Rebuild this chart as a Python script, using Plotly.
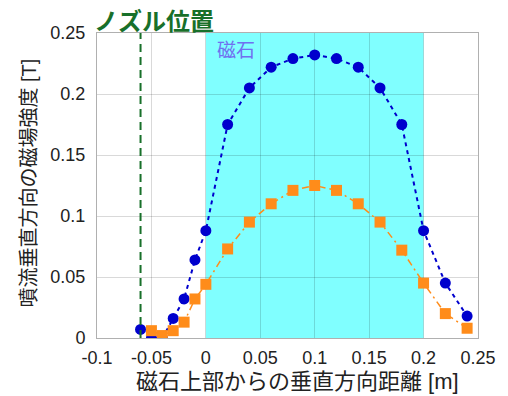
import plotly.graph_objects as go

# Data
blue_x = [-0.06, -0.05, -0.04, -0.03, -0.02, -0.01, 0.0, 0.02, 0.04, 0.06, 0.08, 0.10,
          0.12, 0.14, 0.16, 0.18, 0.20, 0.22, 0.24]
blue_y = [0.007, 0.0, 0.0, 0.016, 0.032, 0.064, 0.088, 0.175, 0.205, 0.222, 0.229, 0.232,
          0.229, 0.222, 0.205, 0.175, 0.088, 0.045, 0.018]
orange_x = [-0.05, -0.04, -0.03, -0.02, -0.01, 0.0, 0.02, 0.04, 0.06, 0.08, 0.10,
            0.12, 0.14, 0.16, 0.18, 0.20, 0.22, 0.24]
orange_y = [0.006, 0.002, 0.006, 0.013, 0.032, 0.044, 0.073, 0.095, 0.110, 0.121, 0.125,
            0.121, 0.110, 0.095, 0.072, 0.045, 0.020, 0.008]
x_ticks = [-0.1, -0.05, 0, 0.05, 0.1, 0.15, 0.2, 0.25]
x_tick_labels = ["-0.1", "-0.05", "0", "0.05", "0.1", "0.15", "0.2", "0.25"]
y_ticks = [0, 0.05, 0.1, 0.15, 0.2, 0.25]
y_tick_labels = ["0", "0.05", "0.1", "0.15", "0.2", "0.25"]
magnet_range = [0.0, 0.2]
nozzle_x = -0.06

FONT = "Liberation Sans, Arial, Noto Sans CJK JP, sans-serif"

fig = go.Figure()
fig.add_trace(go.Scatter(
    x=blue_x, y=blue_y, mode="lines+markers",
    line=dict(color="#0000CD", width=2, dash="4px,4px"),
    marker=dict(symbol="circle", size=11, color="#0000CD"),
    showlegend=False))
fig.add_trace(go.Scatter(
    x=orange_x, y=orange_y, mode="lines+markers",
    line=dict(color="#FF8C1A", width=1.5, dash="7px,4px,2px,4px"),
    marker=dict(symbol="square", size=11, color="#FF8C1A"),
    showlegend=False))

fig.add_shape(type="rect", xref="x", yref="paper", x0=magnet_range[0], x1=magnet_range[1],
              y0=0, y1=1, fillcolor="#80FFFF", line=dict(width=0), layer="below")
fig.add_shape(type="line", xref="x", yref="paper", x0=nozzle_x, x1=nozzle_x, y0=0, y1=1,
              line=dict(color="#18702A", width=2, dash="8px,5px"), layer="above")

fig.add_annotation(text="<b>ノズル位置</b>", xref="paper", yref="paper", x=-0.012, y=1.039,
                   xanchor="left", yanchor="middle", showarrow=False,
                   font=dict(family=FONT, size=24, color="#18702A"))
fig.add_annotation(text="磁石", xref="x", yref="paper", x=0.008, y=0.985,
                   xanchor="left", yanchor="top", showarrow=False,
                   font=dict(family=FONT, size=19, color="#7070F0"))
fig.add_annotation(text="磁石上部からの垂直方向距離 [m]", xref="paper", yref="paper",
                   x=0.526, y=-0.144, xanchor="center", yanchor="middle", showarrow=False,
                   font=dict(family=FONT, size=22, color="#222222"))
fig.add_annotation(text="噴流垂直方向の磁場強度 [T]", xref="paper", yref="paper",
                   x=-0.178, y=0.507, xanchor="center", yanchor="middle", showarrow=False,
                   textangle=-90, font=dict(family=FONT, size=20, color="#222222"))

axis_common = dict(showgrid=True, gridcolor="rgba(0,0,0,0.15)", gridwidth=1,
                   showline=True, linecolor="#B0B0B0", linewidth=1, mirror=True,
                   zeroline=False, ticks="", tickfont=dict(family=FONT, size=18, color="#222222"))
fig.update_xaxes(range=[-0.1, 0.25], tickvals=x_ticks, ticktext=x_tick_labels,
                 ticklabelstandoff=3, **axis_common)
fig.update_yaxes(range=[0, 0.25], tickvals=y_ticks, ticktext=y_tick_labels,
                 ticklabelstandoff=7, **axis_common)

# The page body adds an 8px margin, so the figure is 8px smaller than the window.
fig.update_layout(width=500, height=388, margin=dict(l=89, r=24, t=25, b=58),
                  paper_bgcolor="white", plot_bgcolor="white",
                  font=dict(family=FONT))
fig.write_html("out.html")
